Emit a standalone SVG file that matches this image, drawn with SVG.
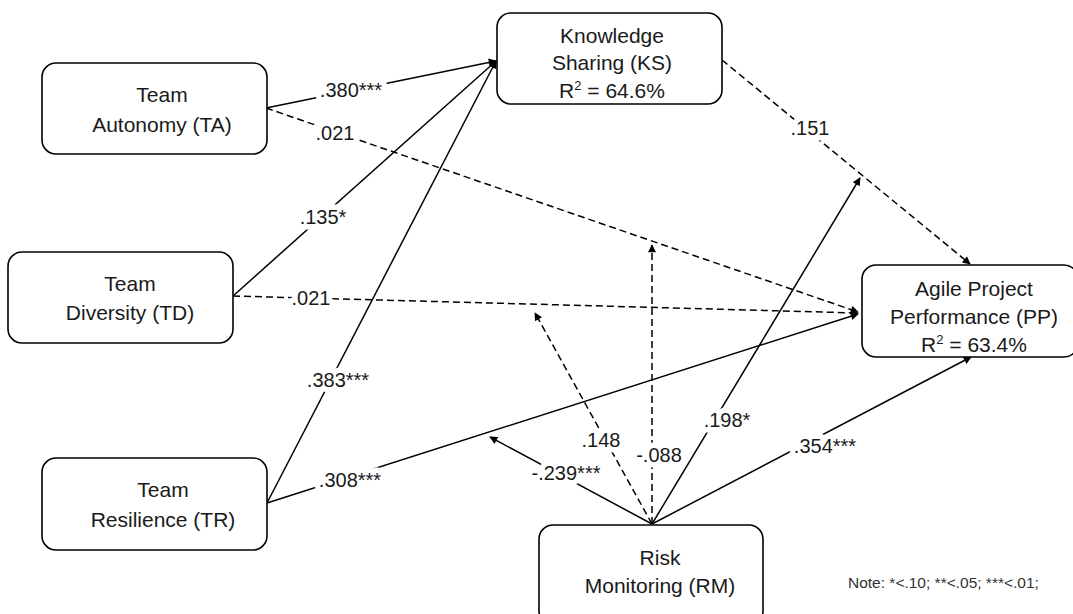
<svg xmlns="http://www.w3.org/2000/svg" width="1073" height="614" viewBox="0 0 1073 614">
<defs>
<marker id="ah" viewBox="0 0 10 10" refX="9" refY="5" markerWidth="9" markerHeight="8" markerUnits="userSpaceOnUse" orient="auto">
<path d="M0,0 L10,5 L0,10 Z" fill="#000"/>
</marker>
<style>
.box{fill:#fff;stroke:#000;stroke-width:1.6}
.t{font-family:"Liberation Sans",Arial,sans-serif;font-size:21px;fill:#1a1a1a;text-anchor:middle}
.sup{font-size:13px}
.c{fill:none;stroke:#000;stroke-width:1.5;marker-end:url(#ah)}
.d{stroke-dasharray:7 4}
.lb{font-family:"Liberation Sans",Arial,sans-serif;font-size:20px;fill:#1a1a1a;text-anchor:middle;stroke:#fff;stroke-width:11;stroke-linejoin:round;paint-order:stroke}
.note{font-family:"Liberation Sans",Arial,sans-serif;font-size:15.5px;fill:#333}
</style>
</defs>
<rect width="1073" height="614" fill="#fff"/>
<g id="connectors">
<line class="c" x1="266" y1="108" x2="496" y2="61"/>
<line class="c d" x1="266" y1="108" x2="858" y2="312"/>
<line class="c" x1="233" y1="296" x2="496" y2="61"/>
<line class="c d" x1="233" y1="296" x2="858" y2="313"/>
<line class="c" x1="267" y1="503" x2="496" y2="61"/>
<line class="c" x1="267" y1="503" x2="858" y2="314"/>
<line class="c d" x1="722" y1="60" x2="970" y2="264"/>
<line class="c" x1="652" y1="524" x2="971" y2="357"/>
<line class="c" x1="652" y1="524" x2="860" y2="178"/>
<line class="c d" x1="652" y1="524" x2="652" y2="245"/>
<line class="c d" x1="652" y1="524" x2="535" y2="313"/>
<line class="c" x1="652" y1="524" x2="490" y2="437"/>
<text class="lb" x="351" y="97">.380***</text>
<text class="lb" x="335" y="140">.021</text>
<text class="lb" x="323" y="224">.135*</text>
<text class="lb" x="311" y="305">.021</text>
<text class="lb" x="338" y="387">.383***</text>
<text class="lb" x="350" y="487">.308***</text>
<text class="lb" x="810" y="135">.151</text>
<text class="lb" x="727" y="427">.198*</text>
<text class="lb" x="825" y="453">.354***</text>
<text class="lb" x="659" y="462">-.088</text>
<text class="lb" x="601" y="447">.148</text>
<text class="lb" x="566" y="480">-.239***</text>
</g>
<g id="TA">
<rect class="box" x="42" y="63" width="225" height="91" rx="14"/>
<text class="t" x="162" y="102">Team</text>
<text class="t" x="162" y="132">Autonomy (TA)</text>
</g>
<g id="TD">
<rect class="box" x="8" y="252" width="225" height="91" rx="14"/>
<text class="t" x="130" y="291">Team</text>
<text class="t" x="130" y="320">Diversity (TD)</text>
</g>
<g id="TR">
<rect class="box" x="42" y="458" width="225" height="92" rx="14"/>
<text class="t" x="163" y="497">Team</text>
<text class="t" x="163" y="527">Resilience (TR)</text>
</g>
<g id="KS">
<rect class="box" x="497" y="13" width="225" height="91" rx="14"/>
<text class="t" x="612" y="43">Knowledge</text>
<text class="t" x="612" y="70">Sharing (KS)</text>
<text class="t" x="612" y="98">R<tspan class="sup" dy="-8">2</tspan><tspan dy="8"> = 64.6%</tspan></text>
</g>
<g id="PP">
<rect class="box" x="862" y="265" width="216" height="92" rx="14"/>
<text class="t" x="974" y="296">Agile Project</text>
<text class="t" x="974" y="324">Performance (PP)</text>
<text class="t" x="974" y="352">R<tspan class="sup" dy="-8">2</tspan><tspan dy="8"> = 63.4%</tspan></text>
</g>
<g id="RM">
<rect class="box" x="539" y="525" width="224" height="100" rx="14"/>
<text class="t" x="660" y="565">Risk</text>
<text class="t" x="660" y="593">Monitoring (RM)</text>
</g>
<text class="note" x="848" y="588">Note: *&lt;.10; **&lt;.05; ***&lt;.01;</text>
</svg>
